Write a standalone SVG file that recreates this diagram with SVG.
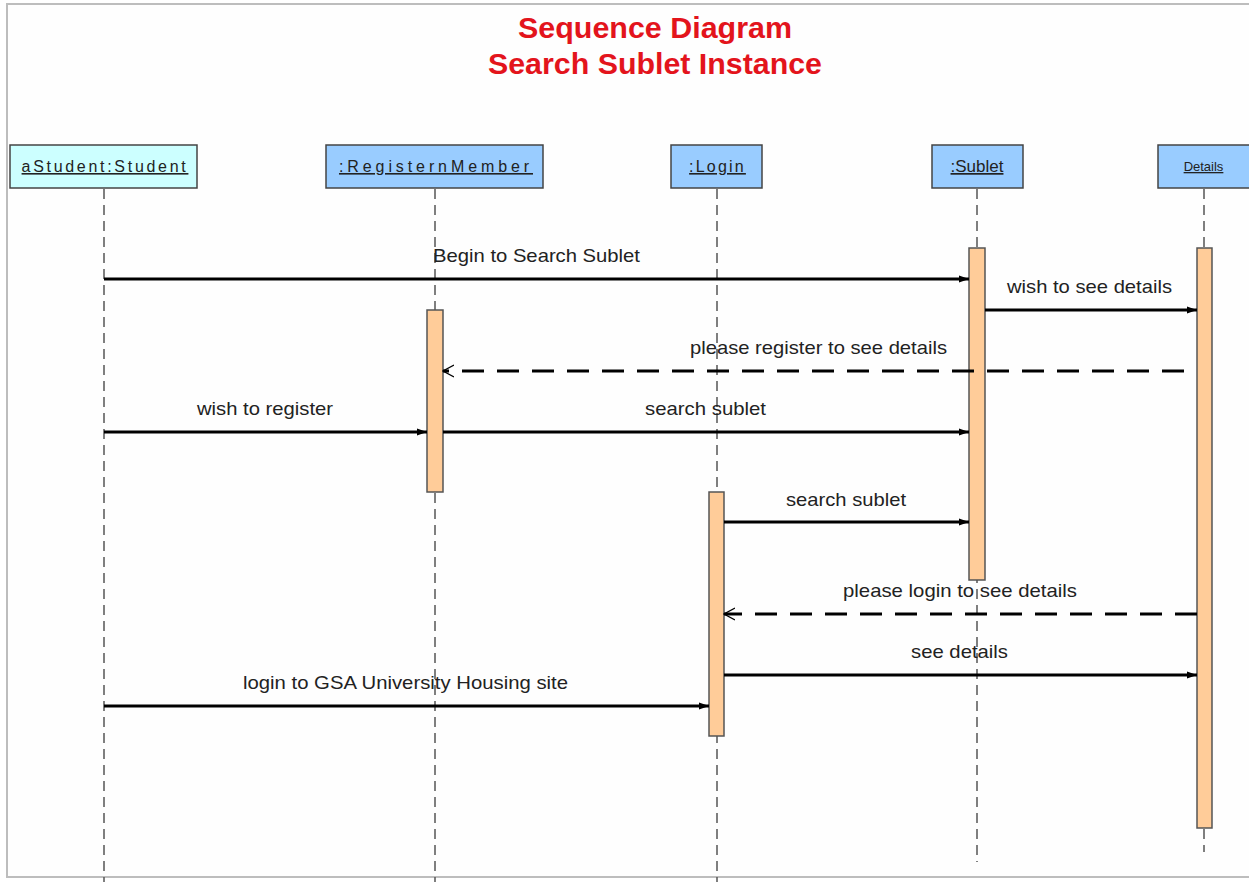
<svg xmlns="http://www.w3.org/2000/svg" width="1249" height="882" viewBox="0 0 1249 882">
  <defs>
    <style>
      .frame { fill: #fefefe; stroke: #bdbdbd; stroke-width: 2; }
      .title { font-family: "Liberation Sans", Arial, sans-serif; font-weight: bold; font-size: 29px; fill: #e3141c; text-anchor: middle; }
      .obj { stroke: #444; stroke-width: 1.5; }
      .actor { fill: #ccffff; }
      .cls { fill: #99ccff; }
      .objlabel { font-family: "Liberation Sans", Arial, sans-serif; font-size: 16px; fill: #222; text-anchor: middle; text-decoration: underline; }
      .lifeline { stroke: #555; stroke-width: 1.5; stroke-dasharray: 10 6; fill: none; }
      .act { fill: #ffcc99; stroke: #555; stroke-width: 1.5; }
      .msg { stroke: #000; stroke-width: 3; fill: none; }
      .call { marker-end: url(#solidHead); }
      .reply { stroke-dasharray: 22 13; marker-end: url(#openHead); }
      .msglabel { font-family: "Liberation Sans", Arial, sans-serif; font-size: 19px; fill: #222; text-anchor: middle; }
    </style>
    <marker id="solidHead" viewBox="0 0 10 10" refX="10" refY="5" markerWidth="10" markerHeight="10" markerUnits="userSpaceOnUse" orient="auto">
      <path d="M0,1.5 L10,5 L0,8.5 Z" fill="#000"/>
    </marker>
    <marker id="openHead" viewBox="0 0 12 14" refX="11" refY="7" markerWidth="12" markerHeight="14" markerUnits="userSpaceOnUse" orient="auto">
      <path d="M0,1 L11,7 L0,13" fill="none" stroke="#000" stroke-width="1.2"/>
    </marker>
  </defs>

  <!-- page frame -->
  <rect class="frame" x="7" y="4" width="1262" height="873"/>

  <!-- title -->
  <g id="title">
    <text class="title" x="655" y="38" textLength="274" lengthAdjust="spacingAndGlyphs">Sequence Diagram</text>
    <text class="title" x="655" y="74" textLength="334" lengthAdjust="spacingAndGlyphs">Search Sublet Instance</text>
  </g>

  <!-- lifelines -->
  <g id="lifelines">
    <line class="lifeline" x1="104" y1="189" x2="104" y2="882"/>
    <line class="lifeline" x1="435" y1="189" x2="435" y2="882"/>
    <line class="lifeline" x1="717" y1="189" x2="717" y2="882"/>
    <line class="lifeline" x1="977" y1="189" x2="977" y2="862"/>
    <line class="lifeline" x1="1204" y1="189" x2="1204" y2="852"/>
  </g>

  <!-- participants -->
  <g id="student">
    <rect class="obj actor" x="10" y="145" width="187" height="43"/>
    <text class="objlabel" x="105" y="172" style="letter-spacing:2.7px">aStudent:Student</text>
  </g>
  <g id="registern-member">
    <rect class="obj cls" x="326" y="145" width="217" height="43"/>
    <text class="objlabel" x="436" y="172" style="letter-spacing:3.9px">:RegisternMember</text>
  </g>
  <g id="login">
    <rect class="obj cls" x="671" y="145" width="91" height="43"/>
    <text class="objlabel" x="717.5" y="172" style="letter-spacing:2.2px">:Login</text>
  </g>
  <g id="sublet">
    <rect class="obj cls" x="932" y="145" width="91" height="43"/>
    <text class="objlabel" x="977" y="172" style="font-size:17px">:Sublet</text>
  </g>
  <g id="details">
    <rect class="obj cls" x="1158" y="145" width="95" height="43"/>
    <text class="objlabel" x="1203.5" y="171" style="font-size:13px">Details</text>
  </g>

  <!-- activation bars -->
  <g id="activations">
    <rect class="act" x="969" y="248" width="16" height="332"/>
    <rect class="act" x="1197" y="248" width="15" height="580"/>
    <rect class="act" x="427" y="310" width="16" height="182"/>
    <rect class="act" x="709" y="492" width="15" height="244"/>
  </g>

  <!-- messages -->
  <g id="connectors">
    <line class="msg call" x1="104" y1="279" x2="969" y2="279"/>
    <line class="msg call" x1="985" y1="310" x2="1197" y2="310"/>
    <line class="msg reply" x1="1184" y1="371" x2="443" y2="371"/>
    <line class="msg call" x1="104" y1="432" x2="427" y2="432"/>
    <line class="msg call" x1="443" y1="432" x2="969" y2="432"/>
    <line class="msg call" x1="724" y1="522" x2="969" y2="522"/>
    <line class="msg reply" x1="1197" y1="614" x2="724" y2="614"/>
    <line class="msg call" x1="724" y1="675" x2="1197" y2="675"/>
    <line class="msg call" x1="104" y1="706" x2="709" y2="706"/>
  </g>

  <!-- message labels -->
  <g id="labels">
    <text class="msglabel" x="536.5" y="262" textLength="207" lengthAdjust="spacingAndGlyphs">Begin to Search Sublet</text>
    <text class="msglabel" x="1089.5" y="293" textLength="165" lengthAdjust="spacingAndGlyphs">wish to see details</text>
    <text class="msglabel" x="818.5" y="354" textLength="257" lengthAdjust="spacingAndGlyphs">please register to see details</text>
    <text class="msglabel" x="265" y="415" textLength="136" lengthAdjust="spacingAndGlyphs">wish to register</text>
    <text class="msglabel" x="705.5" y="415" textLength="121" lengthAdjust="spacingAndGlyphs">search sublet</text>
    <text class="msglabel" x="846" y="506" textLength="120" lengthAdjust="spacingAndGlyphs">search sublet</text>
    <text class="msglabel" x="960" y="597" textLength="234" lengthAdjust="spacingAndGlyphs">please login to see details</text>
    <text class="msglabel" x="959.5" y="658" textLength="97" lengthAdjust="spacingAndGlyphs">see details</text>
    <text class="msglabel" x="405.5" y="689" textLength="325" lengthAdjust="spacingAndGlyphs">login to GSA University Housing site</text>
  </g>
</svg>
